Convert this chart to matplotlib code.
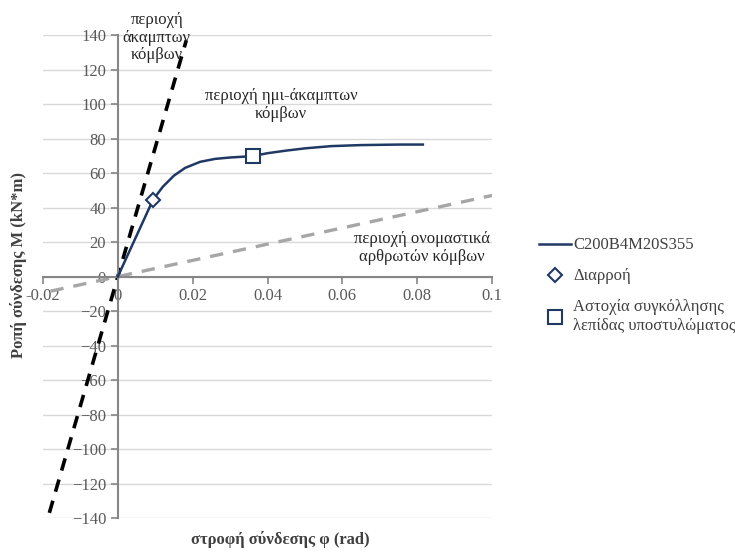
import matplotlib
matplotlib.use("Agg")
import matplotlib.pyplot as plt
import numpy as np

plt.rcParams['font.family'] = ['Liberation Serif', 'DejaVu Serif']

# καμπύλη ροπής - στροφής
phi = [0.0, 0.0094, 0.012, 0.015, 0.018, 0.022, 0.026, 0.030, 0.036,
       0.040, 0.045, 0.050, 0.057, 0.065, 0.075, 0.0815]
moment = [0.0, 44.5, 52.0, 58.5, 63.0, 66.5, 68.2, 69.0, 69.8,
          71.5, 73.0, 74.3, 75.6, 76.2, 76.5, 76.5]

yield_pt = (0.0094, 44.5)
fail_pt = (0.036, 69.8)

# όρια κατάταξης
rigid_x = [-0.0183, 0.0183]
rigid_y = [-137.0, 137.0]
pinned_x = [-0.018, 0.1]
pinned_y = [-8.5, 47.0]

xticks = [-0.02, 0, 0.02, 0.04, 0.06, 0.08, 0.1]
xtick_labels = ['-0.02', '0', '0.02', '0.04', '0.06', '0.08', '0.1']
yticks = list(range(-140, 141, 20))

navy = '#1f3864'
gray_txt = '#595959'
fs = 12

fig = plt.figure(figsize=(7.35, 5.56), dpi=100)
ax = fig.add_axes([0.0585, 0.0683, 0.611, 0.8687])

ax.set_xlim(-0.02, 0.1)
ax.set_ylim(-140, 140)

for v in yticks:
    ax.axhline(v, color='#d9d9d9', lw=1.0, zorder=0)

ax.plot(rigid_x, rigid_y, color='black', lw=2.6, dashes=(3.5, 2.6), zorder=2)
ax.plot(pinned_x, pinned_y, color='#a6a6a6', lw=2.4, dashes=(4, 3), zorder=2)

ax.plot(phi, moment, color=navy, lw=1.8, zorder=3, label='C200B4M20S355')
ax.plot([yield_pt[0]], [yield_pt[1]], linestyle='none', marker='D', ms=7.5,
        mfc='white', mec=navy, mew=1.5, zorder=4, label='Διαρροή')
ax.plot([fail_pt[0]], [fail_pt[1]], linestyle='none', marker='s', ms=10,
        mfc='white', mec=navy, mew=1.5, zorder=4,
        label='Αστοχία συγκόλλησης\nλεπίδας υποστυλώματος')

# άξονες στο μηδέν
for s in ['top', 'right']:
    ax.spines[s].set_visible(False)
ax.spines['left'].set_position(('data', 0))
ax.spines['bottom'].set_position(('data', 0))
for s in ['left', 'bottom']:
    ax.spines[s].set_color('#868686')
    ax.spines[s].set_linewidth(1.5)

ax.set_xticks(xticks)
ax.set_xticklabels(xtick_labels)
ax.set_yticks(yticks)
ax.tick_params(axis='both', colors='#868686', labelcolor=gray_txt,
               labelsize=fs, length=5, width=1.2, direction='out')

ax.text(0.0104, 138.5, 'περιοχή\nάκαμπτων\nκόμβων', ha='center', va='center',
        fontsize=fs, color='#262626', linespacing=1.15, clip_on=False)
ax.text(0.0436, 99.5, 'περιοχή ημι-άκαμπτων\nκόμβων', ha='center', va='center',
        fontsize=fs, color='#262626', linespacing=1.15)
ax.text(0.0813, 16.5, 'περιοχή ονομαστικά\nαρθρωτών κόμβων', ha='center',
        va='center', fontsize=fs, color='#262626', linespacing=1.1)

fig.text(0.025, 0.523, 'Ροπή σύνδεσης M (kN*m)', rotation=90, ha='center',
         va='center', fontsize=fs, fontweight='bold', color='#404040')
fig.text(0.381, 0.029, 'στροφή σύνδεσης φ (rad)', ha='center', va='center',
         fontsize=fs, fontweight='bold', color='#404040')

fig.legend(loc='upper left', bbox_to_anchor=(0.722, 0.588), frameon=False,
           fontsize=fs, handlelength=1.9, handletextpad=0.15,
           labelspacing=0.9, borderpad=0, labelcolor='#404040')

fig.savefig('out.png', dpi=100)
